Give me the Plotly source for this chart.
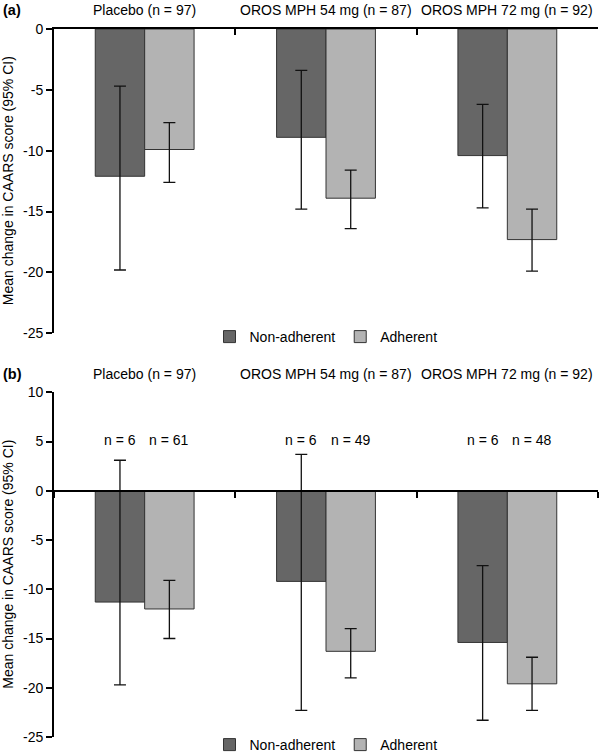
import plotly.graph_objects as go

# ---- data ----
categories = ["Placebo (n = 97)", "OROS MPH 54 mg (n = 87)", "OROS MPH 72 mg (n = 92)"]
series_names = ["Non-adherent", "Adherent"]

# Panel (a)
a_non_mean = [-12.1, -8.9, -10.4]
a_non_lo = [-19.8, -14.8, -14.7]
a_non_hi = [-4.7, -3.4, -6.2]
a_adh_mean = [-9.9, -13.9, -17.3]
a_adh_lo = [-12.6, -16.4, -19.9]
a_adh_hi = [-7.7, -11.6, -14.8]

# Panel (b)
b_non_mean = [-11.3, -9.2, -15.4]
b_non_lo = [-19.7, -22.3, -23.3]
b_non_hi = [3.1, 3.7, -7.6]
b_adh_mean = [-12.0, -16.3, -19.6]
b_adh_lo = [-15.0, -19.0, -22.3]
b_adh_hi = [-9.1, -14.0, -16.9]
b_n_non = [6, 6, 6]
b_n_adh = [61, 49, 48]

a_ticks = [0, -5, -10, -15, -20, -25]
b_ticks = [10, 5, 0, -5, -10, -15, -20, -25]

# ---- style ----
FONT = "Liberation Sans, Arial, sans-serif"
FS = 14
DARK = "#666666"
LIGHT = "#b3b3b3"
OUTLINE = "#333333"
BARGAP = 0.455

W, H = 600, 754
ML, MR, MT, MB = 54, 2, 29, 17
plot_h = H - MT - MB
a_dom = [(H - MB - 333.3) / plot_h, 1.0]
b_dom = [0.0, (H - MB - 392.3) / plot_h]

a_range = [-25, 0]
b_range = [-25, 10]

fig = go.Figure()


def add_panel(means, lo, hi, color, name, xa, ya, legend, show):
    plus = [h - m for h, m in zip(hi, means)]
    minus = [m - l for m, l in zip(means, lo)]
    fig.add_trace(go.Bar(
        x=categories, y=means, name=name, xaxis=xa, yaxis=ya, legend=legend,
        marker=dict(color=color, line=dict(color=OUTLINE, width=1)),
        error_y=dict(type="data", array=plus, arrayminus=minus, symmetric=False,
                     color="#111111", thickness=1.3, width=6),
        showlegend=show,
    ))


add_panel(a_non_mean, a_non_lo, a_non_hi, DARK, series_names[0], "x", "y", "legend", True)
add_panel(a_adh_mean, a_adh_lo, a_adh_hi, LIGHT, series_names[1], "x", "y", "legend", True)
add_panel(b_non_mean, b_non_lo, b_non_hi, DARK, series_names[0], "x2", "y2", "legend2", True)
add_panel(b_adh_mean, b_adh_lo, b_adh_hi, LIGHT, series_names[1], "x2", "y2", "legend2", True)

b_zero_pos = b_dom[0] + (0 - b_range[0]) / (b_range[1] - b_range[0]) * (b_dom[1] - b_dom[0])

line_common = dict(showgrid=False, zeroline=False, showline=True, linecolor="black",
                   linewidth=1.8, tickcolor="black", tickwidth=1.8, ticklen=6)
tickfont = dict(family=FONT, size=FS, color="black")

fig.update_layout(
    width=W, height=H,
    margin=dict(l=ML, r=MR, t=MT, b=MB, autoexpand=False),
    paper_bgcolor="white", plot_bgcolor="white",
    barmode="group", bargap=BARGAP, bargroupgap=0,
    font=dict(family=FONT, size=FS, color="black"),
    xaxis=dict(domain=[0, 1], anchor="y", side="top", type="category",
               range=[-0.5, 2.5], ticks="inside", tickson="boundaries",
               showticklabels=False, **line_common),
    yaxis=dict(domain=a_dom, anchor="x", range=a_range, tickvals=a_ticks,
               ticktext=[str(t) for t in a_ticks], ticks="outside", tickfont=tickfont,
               **line_common),
    xaxis2=dict(domain=[0, 1], anchor="free", position=b_zero_pos, side="bottom",
                type="category", range=[-0.5, 2.5], ticks="outside", tickson="boundaries",
                showticklabels=False, **line_common),
    yaxis2=dict(domain=b_dom, anchor="x2", range=b_range, tickvals=b_ticks,
                ticktext=[str(t) for t in b_ticks], ticks="outside", tickfont=tickfont,
                **line_common),
    legend=dict(orientation="h", x=0.5, xanchor="center",
                y=(H - MB - 337) / plot_h, yanchor="middle",
                font=dict(family=FONT, size=FS), bgcolor="rgba(0,0,0,0)",
                itemwidth=30, tracegroupgap=0),
    legend2=dict(orientation="h", x=0.5, xanchor="center",
                 y=(H - MB - 745) / plot_h, yanchor="middle",
                 font=dict(family=FONT, size=FS), bgcolor="rgba(0,0,0,0)",
                 itemwidth=30, tracegroupgap=0),
)

annotations = []
for xa, ypix in (("x", 10), ("x2", 374)):
    for c in categories:
        annotations.append(dict(x=c, xref=xa, y=(H - MB - ypix) / plot_h, yref="paper",
                                text=c, showarrow=False, xanchor="center", yanchor="middle",
                                font=dict(family=FONT, size=FS)))
for lab, ypix in (("<b>(a)</b>", 10), ("<b>(b)</b>", 374)):
    annotations.append(dict(x=(1 - ML) / (W - ML - MR), xref="paper", y=(H - MB - ypix) / plot_h,
                            yref="paper", text=lab, showarrow=False, xanchor="left",
                            yanchor="middle", font=dict(family=FONT, size=FS + 0.5)))
ytitle = "Mean change in CAARS score (95% CI)"
for dom in (a_dom, b_dom):
    annotations.append(dict(x=(8 - ML) / (W - ML - MR), xref="paper", y=(dom[0] + dom[1]) / 2,
                            yref="paper", text=ytitle, textangle=-90, showarrow=False,
                            xanchor="center", yanchor="middle", font=dict(family=FONT, size=FS)))
off = (1 - BARGAP) / 4
for i in range(len(categories)):
    annotations.append(dict(x=i - off, xref="x2", y=5.2, yref="y2", text=f"n = {b_n_non[i]}",
                            showarrow=False, font=dict(family=FONT, size=FS)))
    annotations.append(dict(x=i + off, xref="x2", y=5.2, yref="y2", text=f"n = {b_n_adh[i]}",
                            showarrow=False, font=dict(family=FONT, size=FS)))
fig.update_layout(annotations=annotations)

fig.write_html("out.html", config={"displayModeBar": False},
               post_script="document.body.style.margin='0';document.body.style.overflow='hidden';")
